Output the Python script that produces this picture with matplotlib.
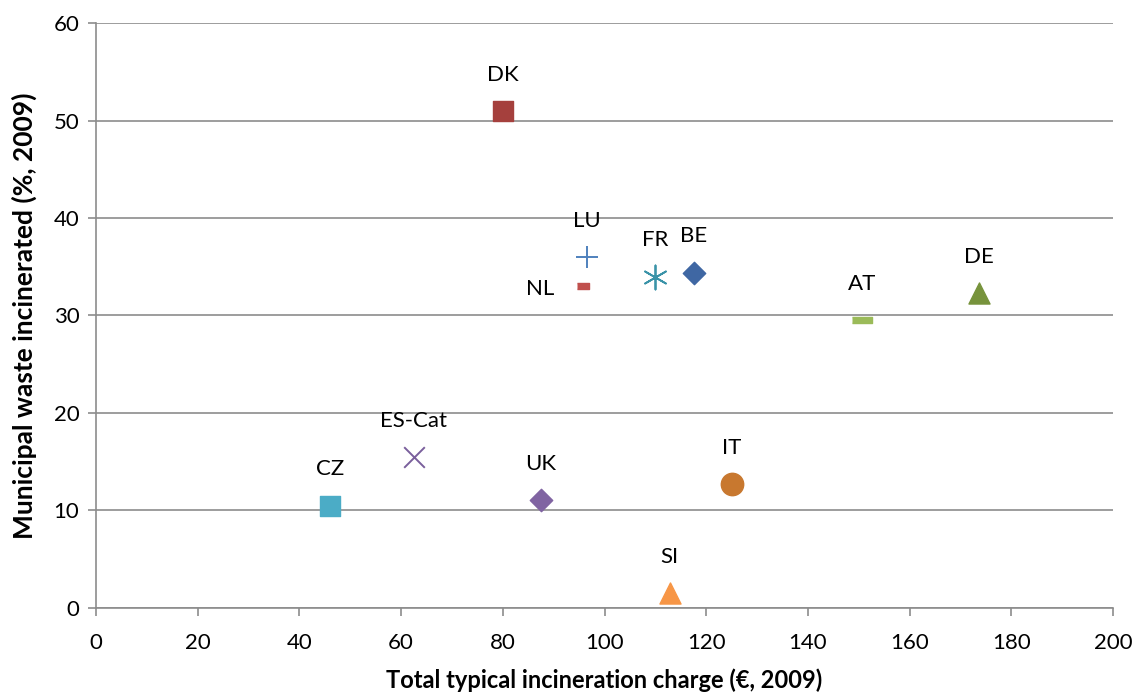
import matplotlib
matplotlib.use("Agg")
import matplotlib.pyplot as plt

plt.rcParams['font.family'] = ['Lato', 'DejaVu Sans']

countries = ['DK', 'LU', 'NL', 'FR', 'BE', 'AT', 'DE', 'ES-Cat', 'CZ', 'UK', 'IT', 'SI']
charge = [80, 96.5, 95.8, 110, 117.5, 150.7, 173.7, 62.5, 46, 87.5, 125, 112.8]
incinerated = [51, 36, 33, 34, 34.4, 29.5, 32.3, 15.5, 10.5, 11.1, 12.7, 1.5]

short_dash = [(-1, -0.45), (1, -0.45), (1, 0.45), (-1, 0.45)]
long_dash = [(-1, -0.25), (1, -0.25), (1, 0.25), (-1, 0.25)]
styles = {
    'DK': dict(marker='s', color='#A5403D', s=210),
    'LU': dict(marker='+', color='#4F81BD', s=260, linewidths=1.4),
    'NL': dict(marker=short_dash, color='#C0504D', s=65),
    'FR': dict(marker=(6, 2, 0), color='#3A93A8', s=300, linewidths=1.3),
    'BE': dict(marker='D', color='#3F67A3', s=130),
    'AT': dict(marker=long_dash, color='#9BBB59', s=210),
    'DE': dict(marker='^', color='#77933C', s=230),
    'ES-Cat': dict(marker='x', color='#7A5F9C', s=220, linewidths=1.4),
    'CZ': dict(marker='s', color='#4BACC6', s=210),
    'UK': dict(marker='D', color='#8064A2', s=130),
    'IT': dict(marker='o', color='#C8782F', s=260),
    'SI': dict(marker='^', color='#F79646', s=230),
}

fig = plt.figure(figsize=(11.37, 6.98), dpi=100)
ax = fig.add_axes([0.0844, 0.129, 0.8946, 0.838])

for name, x, y in zip(countries, charge, incinerated):
    ax.scatter(x, y, zorder=3, **styles[name])
    if name == 'NL':
        ax.annotate(name, (x, y), xytext=(-31, -2), textcoords='offset points',
                    ha='center', va='center', fontsize=16)
    else:
        ax.annotate(name, (x, y), xytext=(0, 26), textcoords='offset points',
                    ha='center', va='center', fontsize=16)

ax.set_xlim(0, 200)
ax.set_ylim(0, 60)
ax.set_xticks(range(0, 201, 20))
ax.set_yticks(range(0, 61, 10))
ax.yaxis.grid(True, color='#8c8c8c', linewidth=1.2)
ax.set_axisbelow(True)
for side in ['top', 'right']:
    ax.spines[side].set_visible(False)
for side in ['left', 'bottom']:
    ax.spines[side].set_color('#8c8c8c')
    ax.spines[side].set_linewidth(1.2)
ax.tick_params(axis='both', colors='#8c8c8c', labelcolor='black', labelsize=16,
               length=6, width=1.2, direction='out')
ax.tick_params(axis='x', pad=12)
ax.tick_params(axis='y', pad=6)

ax.set_xlabel('Total typical incineration charge (€, 2009)', fontsize=17,
              fontweight='bold', labelpad=11)
ax.set_ylabel('Municipal waste incinerated (%, 2009)', fontsize=19,
              fontweight='bold', labelpad=12)

fig.savefig('out.png', dpi=100)
